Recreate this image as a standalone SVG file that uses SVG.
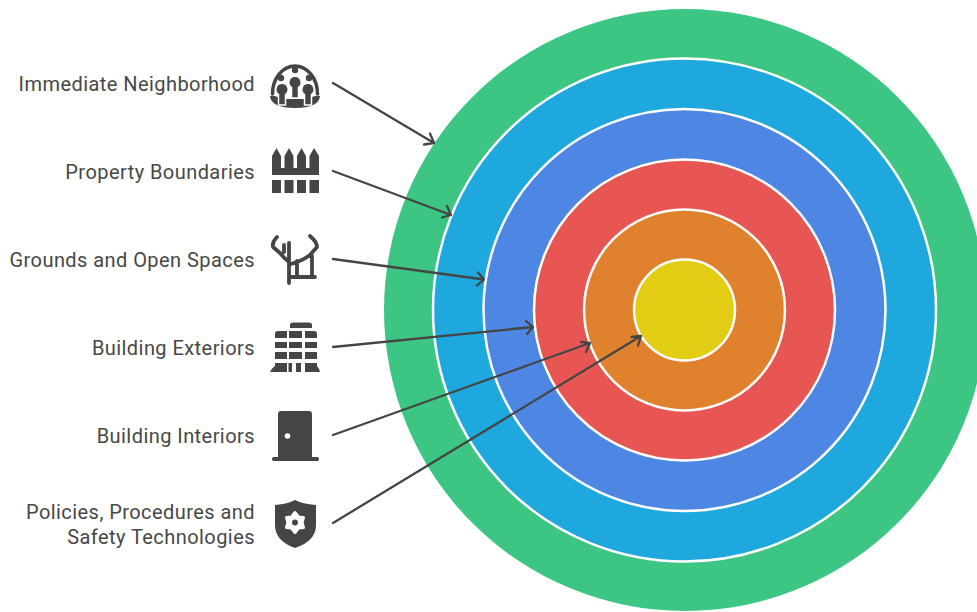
<svg xmlns="http://www.w3.org/2000/svg" width="977" height="612" viewBox="0 0 977 612">
<style>
.l{font-family:Roboto,"Liberation Sans",sans-serif;font-size:20px;fill:#474747;text-anchor:end;letter-spacing:.44px}
.i{fill:#454545}
.h{fill:#454545;stroke:#fff;stroke-width:1.500}
.w{fill:#fff}
.s{fill:none;stroke:#454545;stroke-linecap:round;stroke-linejoin:round}
.c{stroke:#fff;stroke-width:2.5}
.a{fill:none;stroke:#454545;stroke-width:2.300;stroke-linecap:round;stroke-linejoin:round}
</style>
<rect width="977" height="612" fill="#fff"/>
<g id="rings">
<circle id="ring-neighborhood" cx="685" cy="310" r="301" fill="#3cc583"/>
<circle id="ring-boundaries" class="c" cx="684.500" cy="310" r="251.500" fill="#1ea8dd"/>
<circle id="ring-grounds" class="c" cx="684.500" cy="310" r="201" fill="#4e86e4"/>
<circle id="ring-exteriors" class="c" cx="684.500" cy="310" r="150.500" fill="#e85654"/>
<circle id="ring-interiors" class="c" cx="684.500" cy="310" r="100.500" fill="#e0822d"/>
<circle id="ring-policies" class="c" cx="684.500" cy="310" r="50.500" fill="#e2cd14"/>
</g>
<g id="connectors">
<path class="a" d="M333 83L434 143M424 144.500L434 143L430 133.500"/>
<path class="a" d="M333 171L451 215M442 217.500L451 215L447 206"/>
<path class="a" d="M333 259L484 279.500M477 285.500L484 279.500L478 272.500"/>
<path class="a" d="M333 347L533 327M527 334L533 327L526 321"/>
<path class="a" d="M333 435L590 343M581 342L590 343L586 352"/>
<path class="a" d="M333 523L641 336M631.500 337L641 336L638 345.500"/>
</g>
<g id="node-neighborhood">
<text class="l" x="255" y="90.500">Immediate Neighborhood</text>
<path class="s" stroke-width="3.500" d="M272.500 94A22.500 28 0 1 1 317.500 94"/>
<path class="i" d="M270 96Q276 95 281 99H309Q314 95 320 96Q319 108 295 108Q271 108 270 96Z"/>
<circle class="i" cx="295" cy="70" r="3.200"/><circle class="i" cx="281" cy="78" r="3.200"/><circle class="i" cx="309" cy="78" r="3.200"/>
<path class="h" d="M289 81A6.200 6.200 0 0 1 301 81Q302 85 298.500 87.500V98H291.500V87.500Q288 85 289 81Z"/>
<path class="h" d="M276 88A6.200 6.200 0 0 1 288 88Q289 92 285.500 94.500V105H278.500V94.500Q275 92 276 88Z"/>
<path class="h" d="M302 88A6.200 6.200 0 0 1 314 88Q315 92 311.500 94.500V105H304.500V94.500Q301 92 302 88Z"/>
</g>
<g id="node-boundaries">
<text class="l" x="255" y="178.500">Property Boundaries</text>
<path class="i" d="M272 156L276.500 148L281 156V168H284.500V156L289 148L293.500 156V168H297V156L301.500 148L306 156V168H309.500V156L314 148L319 156V175H272Z"/>
<path class="i" d="M272 180H281V193H272ZM284.500 180H293.500V193H284.500ZM297 180H306V193H297ZM309.500 180H319V193H309.500Z"/>
</g>
<g id="node-grounds">
<text class="l" x="255" y="266.500">Grounds and Open Spaces</text>
<path class="s" stroke-width="3.800" d="M277 237Q272 242 273 247L280 253Q284 258 289 262M284 245V252M289 243V283M310 236Q317 242 317 247L310 255Q302 261 291 264M297 261V277M312 256V277M289 277H315"/>
</g>
<g id="node-exteriors">
<text class="l" x="255" y="354.500">Building Exteriors</text>
<path class="i" d="M290 325Q290 322.500 293 322.500H309Q312 322.500 312 325V328H290Z"/>
<path class="i" d="M275 334Q275 331 278 331H287V338H275ZM289 331H302V338H289ZM305 331H314Q317 331 317 334V338H305ZM275 342H287V348H275ZM289 342H302V348H289ZM305 342H317V348H305ZM275 352H287V359H275ZM289 352H302V359H289ZM305 352H317V359H305Z"/>
<path class="i" d="M275 363H287V372H270Q272 368 275 366ZM288.500 363H292V372H288.500ZM296 363H301V372H296ZM305 363H317V366Q319 368 320 372H305Z"/>
</g>
<g id="node-interiors">
<text class="l" x="255" y="442.500">Building Interiors</text>
<path class="i" d="M278 414Q278 411 281 411H309Q312 411 312 414V457H318Q320 459 318 461H273Q271 459 273 457H278Z"/>
<circle class="w" cx="287.500" cy="436" r="2.800"/>
</g>
<g id="node-policies">
<text class="l" x="255" y="518.500">Policies, Procedures and</text>
<text class="l" x="255" y="543.500">Safety Technologies</text>
<path class="i" d="M275 505Q288 504 295 500Q302 504 316 505V525Q316 541 295 548Q275 541 275 525Z"/>
<polygon class="w" stroke="#fff" stroke-width="3" stroke-linejoin="round" points="295,512.500 298.500,517 303.500,517.500 302,522.500 303.500,527.500 298.500,528 295,532.500 291.500,528 286.500,527.500 288,522.500 286.500,517.500 291.500,517"/>
<circle class="i" cx="295" cy="522.500" r="3"/>
</g>
</svg>
